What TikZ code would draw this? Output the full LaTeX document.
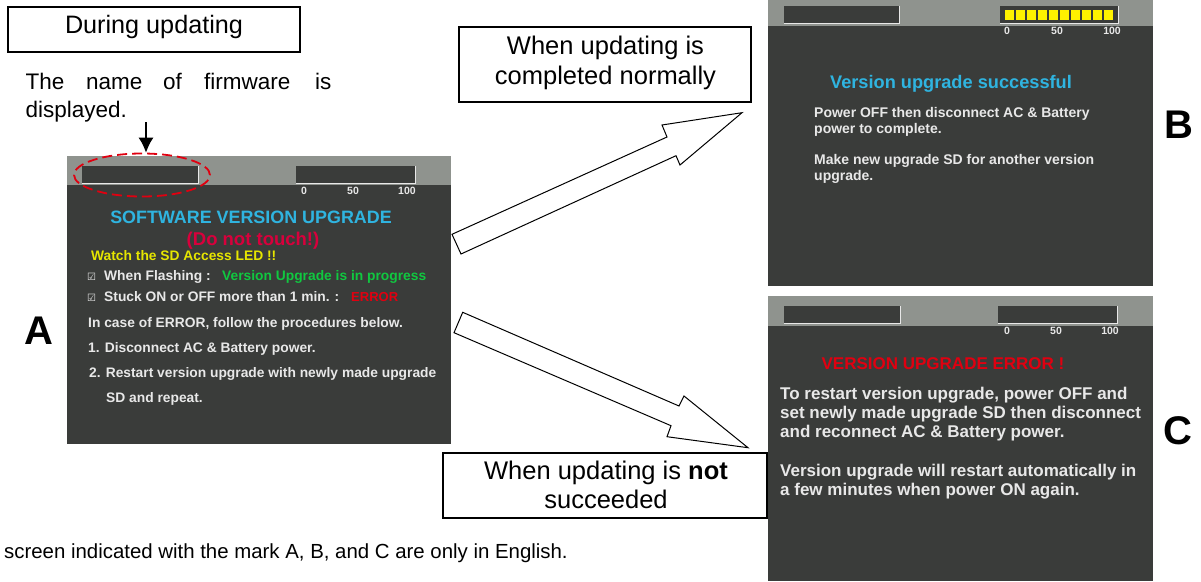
\documentclass[tikz,border=0pt]{standalone}
\usepackage{fontspec}
\setmainfont{Liberation Sans}
\newfontfamily\symfont{DejaVu Sans}
\usetikzlibrary{arrows.meta,shapes.geometric}
\definecolor{scr}{HTML}{3A3C3A}
\definecolor{hdr}{HTML}{8F938E}
\definecolor{cy}{HTML}{2FB4E0}
\definecolor{rd}{HTML}{D8003C}
\definecolor{er}{HTML}{E00010}
\definecolor{yl}{HTML}{E6E600}
\definecolor{gn}{HTML}{10C840}
\definecolor{wt}{HTML}{E8E8E8}
\newcommand{\fs}[1]{\fontsize{#1}{#1}\selectfont}
\tikzset{
  x=1pt,y=-1pt,
  lab/.style={draw=black,line width=1.6pt,fill=white,inner sep=0pt},
  labtext/.style={align=center,inner sep=0pt,font=\fs{25.5}},
  notetext/.style={anchor=base west,inner sep=0pt,font=\fs{22.5}},
  big/.style={font=\fs{40}\bfseries,inner sep=0pt},
  blockarrow/.style={draw=black,line width=1pt,fill=white,line join=miter},
  slot/.style={fill=scr,draw=none},
  slotedge/.style={draw=wt,line width=1pt},
  sc/.style={font=\fs{10.5}\bfseries,text=wt,inner sep=0pt},
  ln/.style={anchor=base west,inner sep=0pt,text=wt,font=\fs{13.8}\bfseries},
  lnm/.style={anchor=base west,inner sep=0pt,text=wt,font=\fs{14}\bfseries},
  lnb/.style={anchor=base west,inner sep=0pt,text=wt,font=\fs{17}\bfseries},
}
\begin{document}
\begin{tikzpicture}
\useasboundingbox (0,0) rectangle (1201,581);
\fill[white] (0,0) rectangle (1201,581);
% Screen A
\fill[scr] (67,156) rectangle (451,444);
\fill[hdr] (67,156) rectangle (451,185);
\fill[slot] (82,166) rectangle (198,183);
\draw[slotedge] (198.5,166) -- (198.5,183.5) -- (82,183.5);
\fill[slot] (296,166) rectangle (415,183);
\draw[slotedge] (415.5,166) -- (415.5,183.5) -- (296,183.5);
\node[sc] (a0) at (304,191) {0};
\node[sc] (a50) at (353,191) {50};
\node[sc] (a100) at (407,191) {100};
\node[anchor=base,inner sep=0pt,text=cy,font=\fs{17.9}\bfseries] (atitle) at (251,223) {SOFTWARE VERSION UPGRADE};
\node[anchor=base,inner sep=0pt,text=rd,font=\fs{18.5}\bfseries] (asub) at (253,245) {(Do not touch!)};
\node[ln,text=yl] (a1) at (91,260) {Watch the SD Access LED !!};
\node[ln,font=\fs{10}\symfont] (c1) at (87,280) {☑};
\node[ln] (a2) at (104,280) {When Flashing :};
\node[ln,text=gn] (a2b) at (222,280) {Version Upgrade is in progress};
\node[ln,font=\fs{10}\symfont] (c2) at (87,301) {☑};
\node[ln] (a3) at (104,301) {Stuck ON or OFF more than 1 min. :};
\node[ln,text=er,font=\fs{13}\bfseries] (a3b) at (351,301) {ERROR};
\node[ln] (a4) at (88,327) {In case of ERROR, follow the procedures below.};
\node[ln] (a5) at (88,352) {1. Disconnect AC \& Battery power.};
\node[ln] (a6) at (89,377) {2. Restart version upgrade with newly made upgrade};
\node[ln] (a7) at (106,402) {SD and repeat.};
% Screen B
\fill[scr] (768,0) rectangle (1153,286);
\fill[hdr] (768,0) rectangle (1153,26);
\fill[slot] (784,6) rectangle (899,23);
\draw[slotedge] (899.5,6) -- (899.5,23.5) -- (784,23.5);
\fill[slot] (1000,6) rectangle (1118,23);
\draw[slotedge] (1118.5,6) -- (1118.5,23.5) -- (1000,23.5);
\foreach \i in {0,...,9} \fill[yellow] (1005+\i*11,10) rectangle +(9.2,10);
\node[sc] (b0) at (1007,31) {0};
\node[sc] (b50) at (1057,31) {50};
\node[sc] (b100) at (1112,31) {100};
\node[anchor=base,inner sep=0pt,text=cy,font=\fs{18.2}\bfseries] (btitle) at (951,88) {Version upgrade successful};
\node[lnm] (b1) at (814,117) {Power OFF then disconnect AC \& Battery};
\node[lnm] (b2) at (814,133) {power to complete.};
\node[lnm] (b3) at (814,164) {Make new upgrade SD for another version};
\node[lnm] (b4) at (814,180) {upgrade.};
% Screen C
\fill[scr] (768,296) rectangle (1153,581);
\fill[hdr] (768,296) rectangle (1153,326);
\fill[slot] (784,306) rectangle (900,323);
\draw[slotedge] (900.5,306) -- (900.5,323.5) -- (784,323.5);
\fill[slot] (998,306) rectangle (1117,323);
\draw[slotedge] (1117.5,306) -- (1117.5,323.5) -- (998,323.5);
\node[sc] (cc0) at (1007,331) {0};
\node[sc] (cc50) at (1056,331) {50};
\node[sc] (cc100) at (1110,331) {100};
\node[anchor=base,inner sep=0pt,text=er,font=\fs{17}\bfseries] (ctitle) at (943,369) {VERSION UPGRADE ERROR !};
\node[lnb] (d1) at (780,399) {To restart version upgrade, power OFF and};
\node[lnb] (d2) at (780,418) {set newly made upgrade SD then disconnect};
\node[lnb] (d3) at (780,437) {and reconnect AC \& Battery power.};
\node[lnb] (d4) at (780,476) {Version upgrade will restart automatically in};
\node[lnb] (d5) at (780,495) {a few minutes when power ON again.};
% Label boxes
\node[lab,minimum width=292pt,minimum height=45pt] (during) at (154,29.5) {};
\node[labtext,anchor=base,font=\fs{25.2}] (duringt) at (154,33) {During updating};
\node[lab,minimum width=292pt,minimum height=75pt] (normal) at (605,64.5) {};
\node[labtext,anchor=base] (normalt1) at (605.5,54) {When updating is};
\node[labtext,anchor=base] (normalt2) at (605.5,84) {completed normally};
\node[lab,minimum width=324pt,minimum height=65pt] (notok) at (605,485.5) {};
\node[labtext,anchor=base] (notokt1) at (606,479) {When updating is \textbf{not}};
\node[labtext,anchor=base] (notokt2) at (606,508) {succeeded};
% Note
\node[notetext] (note1) at (25.5,89) {The};
\node[notetext] (note2) at (86,89) {name};
\node[notetext] (note3) at (163,89) {of};
\node[notetext] (note4) at (204,89) {firmware};
\node[notetext] (note5) at (315,89) {is};
\node[notetext] (note6) at (25.5,117) {displayed.};
% Pointer
\node[draw=er,dash pattern=on 10pt off 5pt,line width=1.8pt,ellipse,minimum width=136pt,minimum height=43pt,inner sep=0pt] (oval) at (142,175) {};
\coordinate (ptr) at (146,122);
\draw[line width=1.2pt,-{Latex[length=15pt,width=15pt]}] (ptr) -- (ptr |- oval.north);
% Block arrows
\draw[blockarrow] (452,234.3) -- (667,137) -- (662,125) -- (742,112.7) -- (680,165) -- (676,155.7) -- (461,254) -- cycle;
\draw[blockarrow] (462.7,312.3) -- (679,406) -- (684,396) -- (748,447.7) -- (667,436.7) -- (671,425.7) -- (454,332.7) -- cycle;
% Letters
\node[big] (la) at (39,331) {A};
\node[big] (lb) at (1179,125) {B};
\node[big] (lc) at (1178,431) {C};
% Caption
\node[anchor=base west,inner sep=0pt,font=\fs{20.4}] (cap) at (4,558) {screen indicated with the mark A, B, and C are only in English.};
\end{tikzpicture}
\end{document}
